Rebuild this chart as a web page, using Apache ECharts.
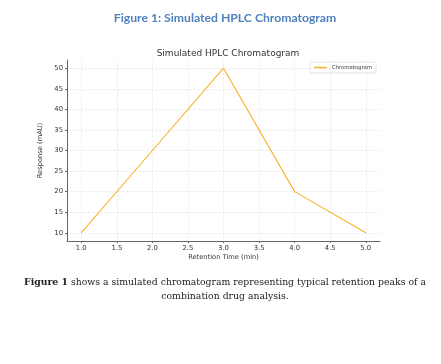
<!DOCTYPE html>
<html><head><meta charset="utf-8">
<script src="https://cdn.jsdelivr.net/npm/echarts@6/dist/echarts.min.js"></script>
<style>html,body{margin:0;padding:0;background:#fff}#c{width:441px;height:364px}</style>
</head><body><div id="c"></div>
<script>
const retentionTimes = [1.0, 2.0, 3.0, 4.0, 5.0];
const responses = [10, 30, 50, 20, 10];
const xTicks = [1.0, 1.5, 2.0, 2.5, 3.0, 3.5, 4.0, 4.5, 5.0];
const yTicks = [10, 15, 20, 25, 30, 35, 40, 45, 50];
const seriesName = 'Chromatogram';

const chart = echarts.init(document.getElementById('c'));
const tickFont = {fontFamily:'DejaVu Sans', fontSize:6.8, color:'#333'};
chart.setOption({
  animation:false,
  title:[
    {text:'Figure 1: Simulated HPLC Chromatogram', left:220, textAlign:'center', top:7,
     textStyle:{fontFamily:'Lato', fontWeight:'bold', fontSize:12.2, color:'#4f81bd'}},
    {text:'Simulated HPLC Chromatogram', left:223, textAlign:'center', top:44,
     textStyle:{fontFamily:'DejaVu Sans', fontWeight:'normal', fontSize:9, color:'#333'}},
    {text:'{b|Figure 1} shows a simulated chromatogram representing typical retention peaks of a\ncombination drug analysis.', left:220, top:271,
     textAlign:'center',
     textStyle:{fontFamily:'DejaVu Serif', fontWeight:'normal', fontSize:9.3, color:'#222', lineHeight:14, align:'center',
       rich:{b:{fontFamily:'DejaVu Serif', fontWeight:'bold', fontSize:9.3, color:'#222'}}}}
  ],
  legend:{right:65, top:62, orient:'vertical', itemWidth:13, itemHeight:1.5, itemGap:2,
    padding:[3,4,3,4], borderColor:'#ddd', borderWidth:0.8, borderRadius:1,
    textStyle:{fontFamily:'DejaVu Sans', fontSize:5.3, color:'#444'},
    data:[{name:seriesName, icon:'rect'}]},
  grid:{left:67, right:61, top:60, bottom:123},
  xAxis:{type:'value', min:0.8, max:5.2,
    name:'Retention Time (min)', nameLocation:'middle', nameGap:13,
    nameTextStyle:{fontFamily:'DejaVu Sans', fontSize:6.7, color:'#333'},
    axisLine:{lineStyle:{color:'#666', width:1}},
    axisTick:{show:true, length:2, customValues:xTicks, lineStyle:{color:'#666'}},
    axisLabel:{customValues:xTicks, margin:4, formatter:v=>v.toFixed(1), ...tickFont},
    splitLine:{show:true, lineStyle:{color:'#e6e6e6', type:'dashed', width:0.7}}},
  yAxis:{type:'value', min:8, max:52,
    name:'Response (mAU)', nameLocation:'middle', nameGap:15, nameRotate:90,
    nameTextStyle:{fontFamily:'DejaVu Sans', fontSize:6.7, color:'#333'},
    axisLine:{show:true, lineStyle:{color:'#666', width:1}},
    axisTick:{show:true, length:2, customValues:yTicks, lineStyle:{color:'#666'}},
    axisLabel:{customValues:yTicks, margin:4, ...tickFont},
    splitLine:{show:true, lineStyle:{color:'#e6e6e6', type:'dashed', width:0.7}}},
  series:[{name:seriesName, type:'line', data:retentionTimes.map((t,i)=>[t,responses[i]]),
    symbol:'none', lineStyle:{color:'#f7b32b', width:1.1}, itemStyle:{color:'#f7b32b'}}]
});
</script></body></html>
